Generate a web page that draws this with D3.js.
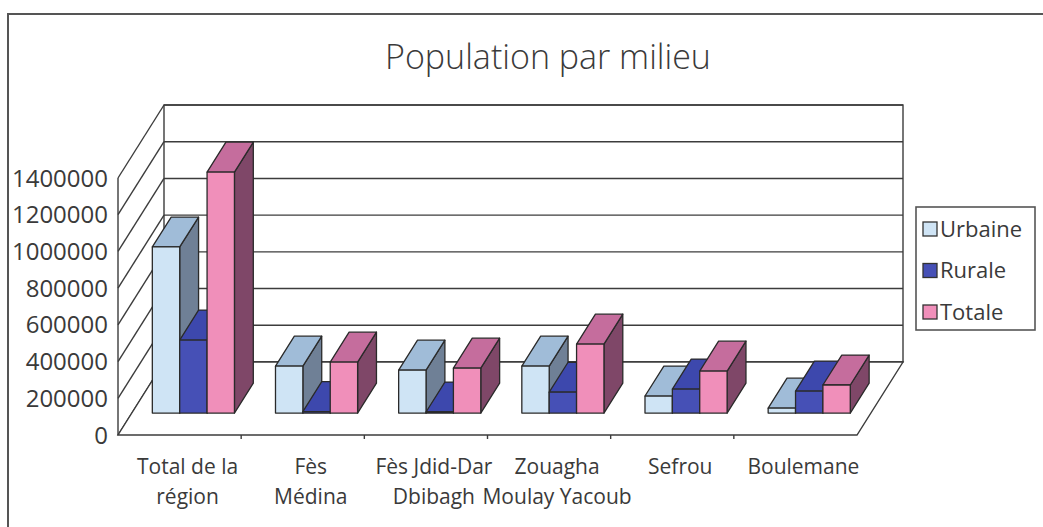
<!DOCTYPE html>
<html>
<head>
<meta charset="utf-8">
<script src="https://cdn.jsdelivr.net/npm/d3@7"></script>
<style>
  html, body { margin: 0; padding: 0; background: #ffffff; }
  svg { display: block; }
  text { fill: #3a3a3a; font-family: "Open Sans", "Liberation Sans", sans-serif; }
</style>
</head>
<body>
<svg id="chart" width="1043" height="527"></svg>
<script>
// ---- data ----
const categories = ["Total de la région", "Fès Médina", "Fès Jdid-Dar Dbibagh", "Zouagha Moulay Yacoub", "Sefrou", "Boulemane"];
const categoryLines = [["Total de la", "région"], ["Fès", "Médina"], ["Fès Jdid-Dar", "Dbibagh"], ["Zouagha", "Moulay Yacoub"], ["Sefrou"], ["Boulemane"]];
const seriesNames = ["Urbaine", "Rurale", "Totale"];
const urbaine = [905000, 256000, 234000, 256000, 93000, 27000];
const rurale = [398000, 8000, 6000, 114000, 131000, 120000];
const totale = [1313000, 278000, 245000, 376000, 229000, 153000];
const yTicks = [0, 200000, 400000, 600000, 800000, 1000000, 1200000, 1400000];
const title = "Population par milieu";

// ---- styles ----
const faceColors = {
  Urbaine: { front: "#cfe4f5", top: "#a0bcd8", side: "#6f8096" },
  Rurale:  { front: "#4650b6", top: "#3d48ad", side: "#2c3384" },
  Totale:  { front: "#f08fba", top: "#c56d9d", side: "#7f4768" }
};
const lineColor = "#3c3c3c";

const svg = d3.select("#chart");

// ---- 3D frame geometry ----
const x0 = 118, x1 = 857;      // front floor edge
const yFloor = 435;            // front floor y
const DX = 46, DY = -73;       // depth offset (front -> back)
const H = 257;                 // height of the value axis
const dFront = 0.30, dBack = 0.71; // bar depth extent

const x = d3.scaleBand().domain(categories).range([x0, x1]).paddingInner(0).paddingOuter(0);
const h = d3.scaleLinear().domain([0, 1400000]).range([0, H]);
const xs = d3.scaleBand().domain(seriesNames).range([0, x.bandwidth()]).paddingOuter(0.75).paddingInner(0);

function P(px, v, d) { return [px + d * DX, yFloor - h(v) + d * DY]; }

// outer frame
svg.append("rect").attr("x", 8).attr("y", 14).attr("width", 1100).attr("height", 600)
  .attr("fill", "#fff").attr("stroke", "#555").attr("stroke-width", 2);

// title
svg.append("text").attr("x", 548).attr("y", 69).attr("text-anchor", "middle")
  .attr("font-size", 34).attr("font-weight", 300).text(title);

const g = svg.append("g").attr("fill", "none").attr("stroke", lineColor).attr("stroke-width", 1.4);

// back wall
const bw0 = P(x0, 0, 1), bw1 = P(x1, 1400000, 1);
g.append("rect").attr("x", bw0[0]).attr("y", bw1[1]).attr("width", bw1[0] - bw0[0]).attr("height", bw0[1] - bw1[1]);
yTicks.forEach(v => {
  const a = P(x0, v, 1), b = P(x1, v, 1);
  g.append("line").attr("x1", a[0]).attr("y1", a[1]).attr("x2", b[0]).attr("y2", b[1]);
});
// left wall
yTicks.forEach(v => {
  const a = P(x0, v, 0), b = P(x0, v, 1);
  g.append("line").attr("x1", a[0]).attr("y1", a[1]).attr("x2", b[0]).attr("y2", b[1]);
});
{
  const a = P(x0, 0, 0), b = P(x0, 1400000, 0);
  g.append("line").attr("x1", a[0]).attr("y1", a[1]).attr("x2", b[0]).attr("y2", b[1]);
}
// floor
{
  const pts = [P(x0, 0, 0), P(x1, 0, 0), P(x1, 0, 1), P(x0, 0, 1)];
  g.append("polygon").attr("points", pts.map(p => p.join(",")).join(" ")).attr("fill", "#fff");
}
// category ticks on front edge
categories.forEach((c, i) => {
  if (i === 0) return;
  const p = P(x(c), 0, 0);
  g.append("line").attr("x1", p[0]).attr("y1", p[1]).attr("x2", p[0]).attr("y2", p[1] + 4);
});

// y labels
svg.append("g").selectAll("text").data(yTicks).join("text")
  .attr("x", 108).attr("y", d => P(x0, d, 0)[1]).attr("dy", "0.36em")
  .attr("text-anchor", "end").attr("font-size", 24).text(d => d);

// bars
const seriesData = { Urbaine: urbaine, Rurale: rurale, Totale: totale };
const barG = svg.append("g").attr("stroke", "#2a2a2a").attr("stroke-width", 1.3).attr("stroke-linejoin", "round");
categories.forEach((c, i) => {
  seriesNames.forEach(s => {
    const v = seriesData[s][i];
    const bx = x(c) + xs(s), bw = xs.bandwidth();
    const poly = pts => pts.map(p => p.join(",")).join(" ");
    // side (right)
    barG.append("polygon").attr("fill", faceColors[s].side)
      .attr("points", poly([P(bx + bw, 0, dFront), P(bx + bw, 0, dBack), P(bx + bw, v, dBack), P(bx + bw, v, dFront)]));
    // top
    barG.append("polygon").attr("fill", faceColors[s].top)
      .attr("points", poly([P(bx, v, dFront), P(bx + bw, v, dFront), P(bx + bw, v, dBack), P(bx, v, dBack)]));
    // front
    barG.append("polygon").attr("fill", faceColors[s].front)
      .attr("points", poly([P(bx, 0, dFront), P(bx + bw, 0, dFront), P(bx + bw, v, dFront), P(bx, v, dFront)]));
  });
});

// category labels
const lab = svg.append("g");
categories.forEach((c, i) => {
  const cx = x(c) + x.bandwidth() / 2 + 8;
  categoryLines[i].forEach((t, j) => {
    lab.append("text").attr("x", cx).attr("y", 474 + j * 30).attr("text-anchor", "middle")
      .attr("font-size", 21).text(t);
  });
});

// legend
const lg = svg.append("g");
lg.append("rect").attr("x", 916).attr("y", 207).attr("width", 119).attr("height", 123)
  .attr("fill", "#fff").attr("stroke", "#555").attr("stroke-width", 1.6);
seriesNames.forEach((s, i) => {
  const cy = 229 + i * 41.5;
  lg.append("rect").attr("x", 923).attr("y", cy - 7).attr("width", 14).attr("height", 14)
    .attr("fill", faceColors[s].front).attr("stroke", "#333").attr("stroke-width", 1.3);
  lg.append("text").attr("x", 940).attr("y", cy).attr("dy", "0.36em").attr("font-size", 22).text(s);
});
</script>
</body>
</html>
